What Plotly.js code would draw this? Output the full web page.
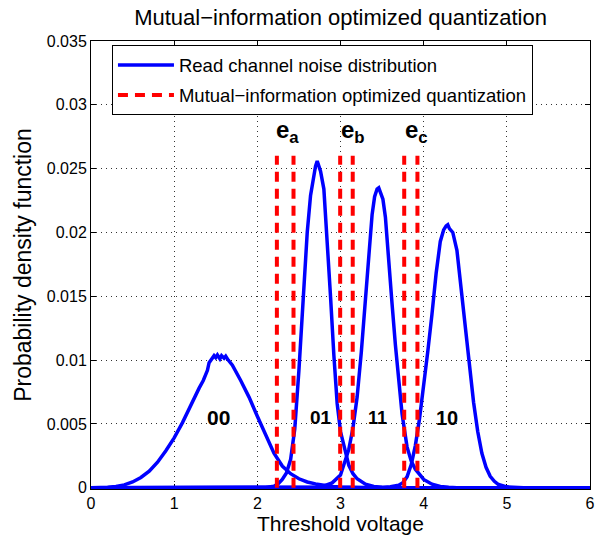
<!DOCTYPE html>
<html>
<head>
<meta charset="utf-8">
<script src="https://cdn.plot.ly/plotly-3.0.1.min.js"></script>
<style>html,body{margin:0;padding:0;background:#fff;}#chart{width:599px;height:539px;}</style>
</head>
<body>
<div id="chart"></div>
<script>
// ---- data ----
var x00 = [0, 0.1, 0.2, 0.3, 0.4, 0.5, 0.6, 0.7, 0.8, 0.9, 1.0, 1.1, 1.2, 1.3, 1.35, 1.4, 1.42, 1.45, 1.48, 1.5, 1.52, 1.55, 1.57, 1.6, 1.62, 1.65, 1.7, 1.8, 1.9, 2.0, 2.1, 2.2, 2.3, 2.4, 2.5, 2.6, 2.7, 2.8, 2.9, 3.0, 3.1, 3.3, 6];
var y00 = [0, 0.00001, 0.00004, 0.0001, 0.00022, 0.00045, 0.0008, 0.0013, 0.002, 0.0029, 0.0039, 0.0051, 0.0065, 0.0078, 0.0084, 0.0092, 0.0098, 0.0101, 0.01035, 0.0102, 0.0104, 0.0101, 0.01035, 0.01015, 0.0103, 0.0100, 0.0096, 0.0084, 0.0071, 0.0056, 0.0041, 0.0027, 0.0017, 0.0011, 0.0007, 0.00045, 0.0003, 0.00018, 0.0001, 0.00005, 0.00002, 0, 0];

var x01 = [0, 2.0, 2.1, 2.2, 2.25, 2.3, 2.35, 2.4, 2.45, 2.5, 2.55, 2.6, 2.64, 2.68, 2.7, 2.72, 2.74, 2.76, 2.8, 2.84, 2.88, 2.92, 2.96, 3.0, 3.05, 3.1, 3.15, 3.2, 3.3, 3.4, 3.5, 3.6, 6];
var y01 = [0, 0, 0.00002, 0.00012, 0.0003, 0.00065, 0.00115, 0.0022, 0.0046, 0.0092, 0.0149, 0.0200, 0.0229, 0.0246, 0.0252, 0.0256, 0.0252, 0.0248, 0.0234, 0.0196, 0.0150, 0.0104, 0.0066, 0.0044, 0.0030, 0.00175, 0.0011, 0.0007, 0.00028, 0.0001, 0.00003, 0, 0];

var x11 = [0, 2.6, 2.7, 2.8, 2.9, 3.0, 3.05, 3.1, 3.15, 3.2, 3.25, 3.3, 3.35, 3.38, 3.41, 3.44, 3.46, 3.48, 3.51, 3.54, 3.58, 3.62, 3.66, 3.7, 3.74, 3.8, 3.85, 3.9, 4.0, 4.1, 4.2, 4.3, 4.4, 6];
var y11 = [0, 0, 0.00005, 0.00015, 0.00038, 0.001, 0.0019, 0.003, 0.0047, 0.0071, 0.0106, 0.0148, 0.0187, 0.0214, 0.0228, 0.0234, 0.0235, 0.0231, 0.0226, 0.0212, 0.0174, 0.0144, 0.0112, 0.0082, 0.0058, 0.0032, 0.0021, 0.00145, 0.00065, 0.00028, 0.0001, 0.00003, 0, 0];

var x10 = [0, 3.4, 3.5, 3.6, 3.7, 3.75, 3.8, 3.85, 3.9, 3.95, 4.0, 4.05, 4.1, 4.15, 4.2, 4.24, 4.27, 4.29, 4.31, 4.35, 4.4, 4.45, 4.5, 4.55, 4.6, 4.65, 4.7, 4.75, 4.8, 4.85, 4.9, 5.0, 5.1, 5.2, 6];
var y10 = [0, 0, 0.00002, 0.00007, 0.0002, 0.0004, 0.00085, 0.0018, 0.0033, 0.0054, 0.0079, 0.0107, 0.0136, 0.0168, 0.0193, 0.0202, 0.0205, 0.0206, 0.0203, 0.0200, 0.0186, 0.0156, 0.0122, 0.0094, 0.0067, 0.0044, 0.0027, 0.0016, 0.0009, 0.0005, 0.00025, 0.00007, 0.00002, 0, 0];

var thresholds = [2.235, 2.435, 2.996, 3.147, 3.766, 3.925];
var thresholdTop = 0.026;

var edgeLabels = ['e<sub>a</sub>', 'e<sub>b</sub>', 'e<sub>c</sub>'];
var edgeLabelX = [2.36, 3.15, 3.91];
var edgeLabelY = 0.0279;

var regionLabels = ['00', '01', '11', '10'];
var regionLabelX = [1.53, 2.77, 3.45, 4.28];
var regionLabelY = 0.0055;
var regionLabelSize = [21, 19, 18, 20];

var xTicks = [0, 1, 2, 3, 4, 5, 6];
var yTicks = [0, 0.005, 0.01, 0.015, 0.02, 0.025, 0.03, 0.035];
var yTickText = ['0', '0.005', '0.01', '0.015', '0.02', '0.025', '0.03', '0.035'];

// ---- traces ----
var FONT = '"Liberation Sans", Arial, Helvetica, sans-serif';
var curves = [[x00, y00], [x01, y01], [x11, y11], [x10, y10]];
var traces = curves.map(function (c, i) {
  return {
    x: c[0], y: c[1], type: 'scatter', mode: 'lines',
    name: 'Read channel noise distribution',
    legendgroup: 'noise', showlegend: i === 0,
    line: {color: '#0000ff', width: 3.5}
  };
});
var tx = [], ty = [];
thresholds.forEach(function (t) { tx.push(t, t, null); ty.push(0, thresholdTop, null); });
traces.push({
  x: tx, y: ty, type: 'scatter', mode: 'lines',
  name: 'Mutual\u2212information optimized quantization',
  line: {color: '#ff0000', width: 4, dash: '10px,7px'}
});

var annotations = [];
edgeLabels.forEach(function (t, i) {
  annotations.push({x: edgeLabelX[i], y: edgeLabelY, xref: 'x', yref: 'y', text: '<b>' + t + '</b>',
    showarrow: false, xanchor: 'center', yanchor: 'middle', font: {family: FONT, size: 24, color: '#000'}});
});
regionLabels.forEach(function (t, i) {
  annotations.push({x: regionLabelX[i], y: regionLabelY, xref: 'x', yref: 'y', text: '<b>' + t + '</b>',
    showarrow: false, xanchor: 'center', yanchor: 'middle', font: {family: FONT, size: regionLabelSize[i], color: '#000'}});
});

var axisCommon = {
  showline: true, linecolor: '#000', linewidth: 1, mirror: 'ticks',
  ticks: 'inside', ticklen: 5, tickcolor: '#000', tickwidth: 1,
  showgrid: true, gridcolor: '#333', gridwidth: 1, griddash: '1px,4px',
  zeroline: false, layer: 'below traces',
  tickfont: {family: FONT, size: 16, color: '#000'}
};

var layout = {
  width: 599, height: 539,
  margin: {l: 91, r: 9, t: 41, b: 50},
  paper_bgcolor: '#fff', plot_bgcolor: '#fff',
  font: {family: FONT, color: '#000'},
  title: {text: 'Mutual\u2212information optimized quantization', font: {family: FONT, size: 22, color: '#000'},
    x: 0.5685, xanchor: 'center', y: 0.968, yref: 'container', yanchor: 'middle'},
  xaxis: Object.assign({}, axisCommon, {
    range: [0, 6], tickvals: xTicks, ticktext: xTicks.map(String),
    title: {text: 'Threshold voltage', font: {family: FONT, size: 21, color: '#000'}, standoff: 4}
  }),
  yaxis: Object.assign({}, axisCommon, {
    range: [-0.0001, 0.035], tickvals: yTicks, ticktext: yTickText,
    title: {text: 'Probability density function', font: {family: FONT, size: 23, color: '#000'}, standoff: 8}
  }),
  legend: {
    x: 0.042, y: 0.99, xanchor: 'left', yanchor: 'top',
    bgcolor: '#fff', bordercolor: '#000', borderwidth: 1, tracegroupgap: 3,
    font: {family: FONT, size: 18.5, color: '#000'}, itemwidth: 56
  },
  annotations: annotations,
  showlegend: true
};

Plotly.newPlot('chart', traces, layout, {displayModeBar: false, staticPlot: true});
</script>
</body>
</html>
